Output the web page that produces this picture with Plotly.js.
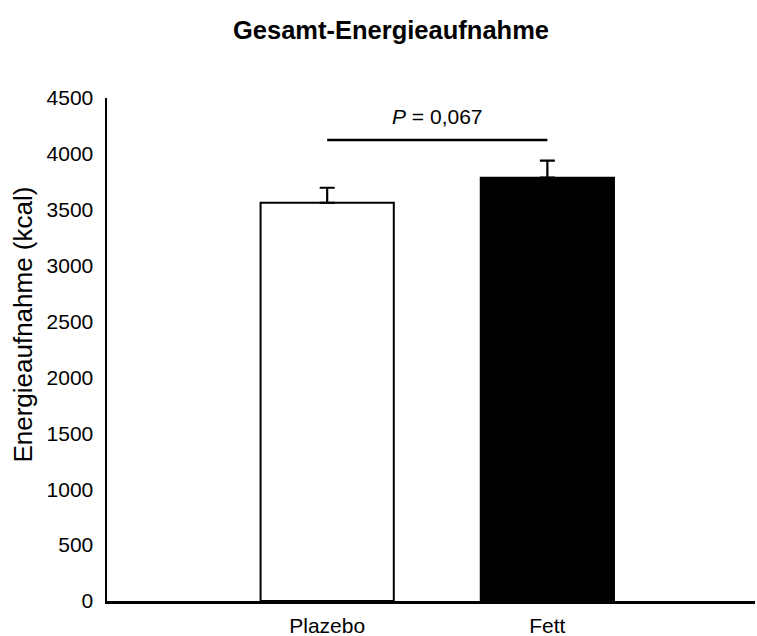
<!DOCTYPE html>
<html>
<head>
<meta charset="utf-8">
<script src="https://cdn.plot.ly/plotly-3.0.1.min.js"></script>
<style>html,body{margin:0;padding:0;background:#fff;}#chart{width:757px;height:636px;}</style>
</head>
<body>
<div id="chart"></div>
<script>
const categories = ["Plazebo", "Fett"];
const energyMeans = [3563, 3787];
const energyErrors = [134, 152];
const barFills = ["#ffffff", "#000000"];
const sigY = 4125;
const sigLabel = "<i>P</i> = 0,067";
const yTitle = "Energieaufnahme (kcal)";
const yTicks = [0, 500, 1000, 1500, 2000, 2500, 3000, 3500, 4000, 4500];

const trace = {
  type: "bar",
  x: categories,
  y: energyMeans,
  width: 0.605,
  marker: { color: barFills, line: { color: "#000000", width: 2 } },
  error_y: {
    type: "data", array: energyErrors, arrayminus: [0, 0], symmetric: false,
    visible: true, color: "#000000", thickness: 2.2, width: 7.5
  },
  hoverinfo: "skip"
};

const font = "Liberation Sans, Arial, sans-serif";
const layout = {
  width: 757, height: 636,
  margin: { l: 107, r: 2, t: 98, b: 35 },
  paper_bgcolor: "#ffffff", plot_bgcolor: "#ffffff",
  showlegend: false,
  font: { family: font, size: 21, color: "#000000" },
  title: { text: "<b>Gesamt-Energieaufnahme</b>", font: { family: font, size: 25.5, color: "#000000" },
           x: 391 / 757, xanchor: "center", xref: "container", y: 0.953, yanchor: "middle", yref: "container" },
  xaxis: {
    type: "category", range: [-1.0, 1.943],
    showgrid: false, zeroline: false, showline: true, linecolor: "#000000", linewidth: 3,
    ticks: "", ticklabelstandoff: 4, tickfont: { family: font, size: 21 }, fixedrange: true
  },
  yaxis: {
    range: [0, 4500], tickvals: yTicks, ticktext: yTicks.map(String),
    showgrid: false, zeroline: false, showline: true, linecolor: "#000000", linewidth: 2.5,
    ticks: "", ticklabelstandoff: 7, tickfont: { family: font, size: 21 },
    fixedrange: true
  },
  shapes: [{
    type: "line", xref: "x", yref: "y", x0: 0, x1: 1, y0: sigY, y1: sigY,
    line: { color: "#000000", width: 2.5 }
  }],
  annotations: [{
    xref: "x", yref: "y", x: 0.5, y: sigY, yanchor: "bottom", yshift: 10,
    text: sigLabel, showarrow: false, font: { family: font, size: 21, color: "#000000" }
  }, {
    xref: "paper", yref: "paper", x: -0.13, y: 0.549, xanchor: "center", yanchor: "middle",
    textangle: -90, text: yTitle, showarrow: false, font: { family: font, size: 26, color: "#000000" }
  }]
};

Plotly.newPlot("chart", [trace], layout, { displayModeBar: false, staticPlot: true });
</script>
</body>
</html>
